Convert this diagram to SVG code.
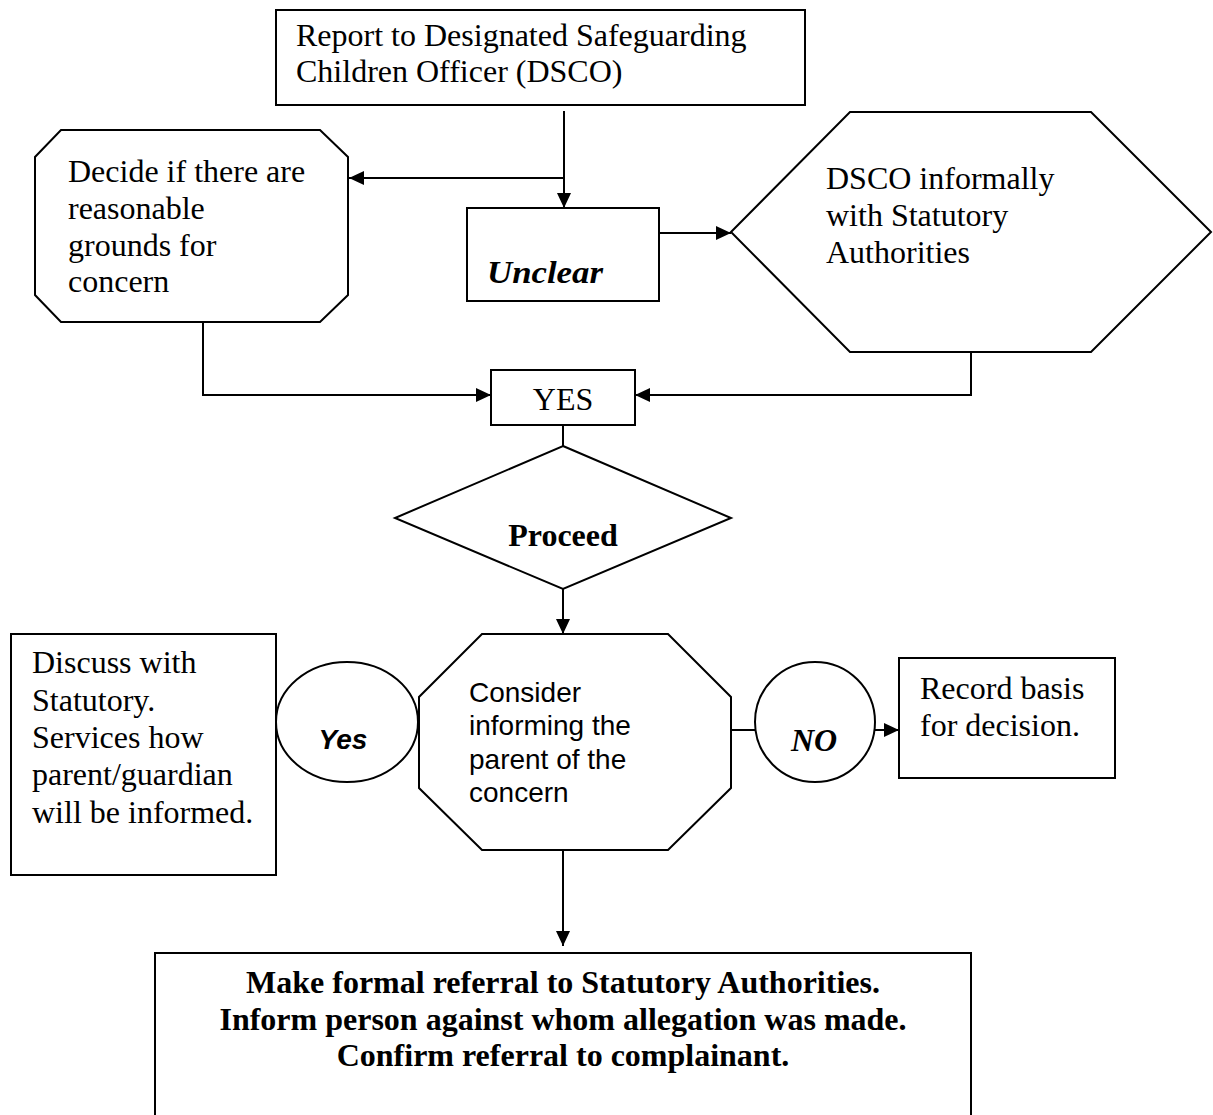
<svg xmlns="http://www.w3.org/2000/svg" width="1213" height="1115" viewBox="0 0 1213 1115">
<style>
.shape{fill:#fff;stroke:#000;stroke-width:2}
.conn{fill:none;stroke:#000;stroke-width:2}
.serif{font-family:"Liberation Serif","Times New Roman",serif;font-size:32px;fill:#000}
.sans{font-family:"Liberation Sans",Arial,sans-serif;font-size:28px;fill:#000}
</style>
<defs>
<marker id="arrow" markerUnits="userSpaceOnUse" markerWidth="16" markerHeight="16" refX="15" refY="8" orient="auto">
<path d="M0,1 L15,8 L0,15 z" fill="#000"/>
</marker>
</defs>
<rect x="0" y="0" width="1213" height="1115" fill="#fff"/>

<g id="connectors">
<path class="conn" d="M564,111 V208" marker-end="url(#arrow)"/>
<path class="conn" d="M564,178 H349" marker-end="url(#arrow)"/>
<path class="conn" d="M659,233 H731" marker-end="url(#arrow)"/>
<path class="conn" d="M203,322 V395 H491" marker-end="url(#arrow)"/>
<path class="conn" d="M971,352 V395 H635" marker-end="url(#arrow)"/>
<path class="conn" d="M563,425 V446"/>
<path class="conn" d="M563,589 V634" marker-end="url(#arrow)"/>
<path class="conn" d="M731,730 H755"/>
<path class="conn" d="M875,730 H899" marker-end="url(#arrow)"/>
<path class="conn" d="M563,850 V946" marker-end="url(#arrow)"/>
</g>

<g id="report">
<rect class="shape" x="276" y="10" width="529" height="95"/>
<text class="serif" x="296" y="46">Report to Designated Safeguarding</text>
<text class="serif" x="296" y="82">Children Officer (DSCO)</text>
</g>

<g id="decide">
<polygon class="shape" points="61,130 320,130 348,157 348,295 320,322 61,322 35,295 35,157"/>
<text class="serif" x="68" y="182">Decide if there are</text>
<text class="serif" x="68" y="219">reasonable</text>
<text class="serif" x="68" y="256">grounds for</text>
<text class="serif" x="68" y="292">concern</text>
</g>

<g id="unclear">
<rect class="shape" x="467" y="208" width="192" height="93"/>
<text class="serif" x="487" y="283" font-weight="bold" font-style="italic" font-size="34" textLength="116" lengthAdjust="spacingAndGlyphs">Unclear</text>
</g>

<g id="dsco">
<polygon class="shape" points="731,232 850,112 1091,112 1211,232 1091,352 850,352"/>
<text class="serif" x="826" y="189">DSCO informally</text>
<text class="serif" x="826" y="226">with Statutory</text>
<text class="serif" x="826" y="263">Authorities</text>
</g>

<g id="yes-box">
<rect class="shape" x="491" y="370" width="144" height="55"/>
<text class="serif" x="563" y="410" text-anchor="middle">YES</text>
</g>

<g id="proceed">
<polygon class="shape" points="563,446 731,518 563,589 395,518"/>
<text class="serif" x="563" y="546" text-anchor="middle" font-weight="bold" font-size="29">Proceed</text>
</g>

<g id="consider">
<polygon class="shape" points="482,634 668,634 731,697 731,788 668,850 482,850 419,788 419,697"/>
<text class="sans" x="469" y="702">Consider</text>
<text class="sans" x="469" y="735">informing the</text>
<text class="sans" x="469" y="769">parent of the</text>
<text class="sans" x="469" y="802">concern</text>
</g>

<g id="discuss">
<rect class="shape" x="11" y="634" width="265" height="241"/>
<text class="serif" x="32" y="673">Discuss with</text>
<text class="serif" x="32" y="711">Statutory.</text>
<text class="serif" x="32" y="748">Services how</text>
<text class="serif" x="32" y="785">parent/guardian</text>
<text class="serif" x="32" y="823">will be informed.</text>
</g>

<g id="yes-circle">
<ellipse class="shape" cx="347" cy="722" rx="71" ry="60"/>
<text class="sans" x="343" y="749" text-anchor="middle" font-weight="bold" font-style="italic" font-size="30">Yes</text>
</g>

<g id="no-circle">
<ellipse class="shape" cx="815" cy="722" rx="60" ry="60"/>
<text class="serif" x="814" y="751" text-anchor="middle" font-weight="bold" font-style="italic" font-size="34">NO</text>
</g>

<g id="record">
<rect class="shape" x="899" y="658" width="216" height="120"/>
<text class="serif" x="920" y="699">Record basis</text>
<text class="serif" x="920" y="736">for decision.</text>
</g>

<g id="referral">
<rect class="shape" x="155" y="953" width="816" height="180"/>
<text class="serif" x="563" y="993" text-anchor="middle" font-weight="bold">Make formal referral to Statutory Authorities.</text>
<text class="serif" x="563" y="1030" text-anchor="middle" font-weight="bold">Inform person against whom allegation was made.</text>
<text class="serif" x="563" y="1066" text-anchor="middle" font-weight="bold">Confirm referral to complainant.</text>
</g>
</svg>
